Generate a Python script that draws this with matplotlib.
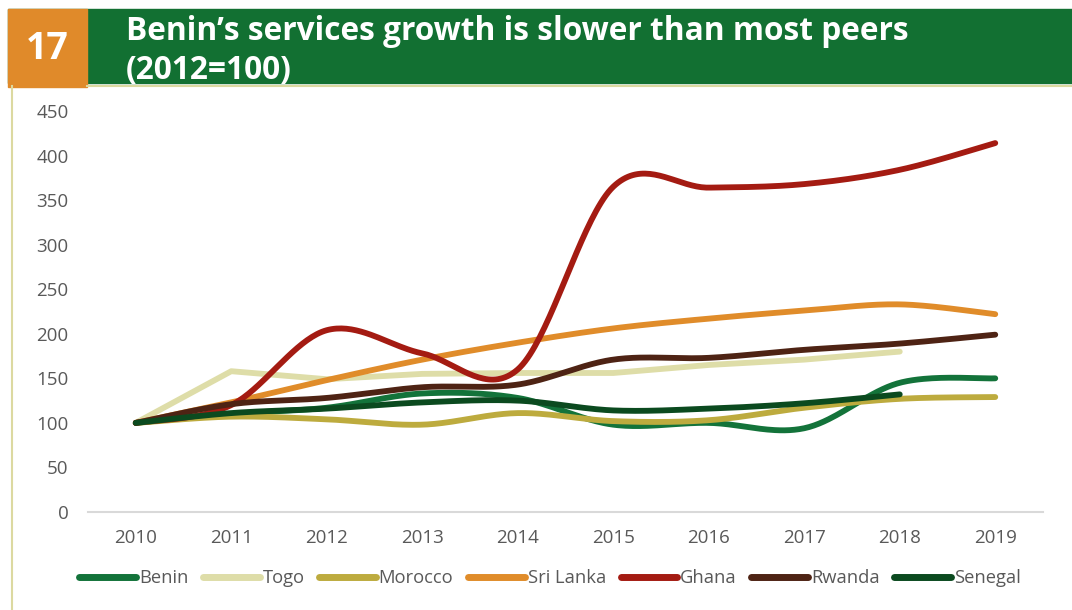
import matplotlib

matplotlib.use("Agg")
import matplotlib.pyplot as plt
import numpy as np
from matplotlib.patches import Rectangle
from matplotlib.lines import Line2D

plt.rcParams["font.family"] = ["Open Sans", "DejaVu Sans"]

years = [2010, 2011, 2012, 2013, 2014, 2015, 2016, 2017, 2018, 2019]

benin = [100, 110, 117, 133, 128, 98, 100, 94, 145, 150]
togo = [100, 158, 149, 155, 156, 156, 165, 171, 180]
morocco = [100, 107, 104, 98, 111, 102, 103, 117, 127, 129]
sri_lanka = [100, 123, 148, 171, 190, 206, 217, 226, 233, 222]
ghana = [100, 120, 204, 178, 160, 365, 364, 368, 384, 414]
rwanda = [100, 121, 128, 140, 143, 171, 173, 182, 189, 199]
senegal = [100, 111, 116, 123, 125, 114, 116, 122, 132]

series = [
    ("Benin", benin, "#13733a", True),
    ("Togo", togo, "#dedda8", False),
    ("Morocco", morocco, "#bdab3e", True),
    ("Sri Lanka", sri_lanka, "#e08c2a", True),
    ("Ghana", ghana, "#a41b12", True),
    ("Rwanda", rwanda, "#4e2314", True),
    ("Senegal", senegal, "#0b4a1f", True),
]

title_lines = ["Benin\u2019s services growth is slower than most peers", "(2012=100)"]

W, H = 1072, 610


def smooth(xs, ys, n=40):
    # cubic bezier through the points, tangents from neighbours (spreadsheet-style smoothing)
    xs = np.asarray(xs, float)
    ys = np.asarray(ys, float)
    px = np.concatenate([[xs[0]], xs, [xs[-1]]])
    py = np.concatenate([[ys[0]], ys, [ys[-1]]])
    out_x, out_y = [xs[0]], [ys[0]]
    t = np.linspace(0, 1, n)[1:]
    for i in range(1, len(px) - 2):
        x0, y0 = px[i], py[i]
        x3, y3 = px[i + 1], py[i + 1]
        x1 = x0 + (px[i + 1] - px[i - 1]) / 6
        y1 = y0 + (py[i + 1] - py[i - 1]) / 6
        x2 = x3 - (px[i + 2] - px[i]) / 6
        y2 = y3 - (py[i + 2] - py[i]) / 6
        a, b, c, d = (1 - t) ** 3, 3 * (1 - t) ** 2 * t, 3 * (1 - t) * t ** 2, t ** 3
        out_x.extend(a * x0 + b * x1 + c * x2 + d * x3)
        out_y.extend(a * y0 + b * y1 + c * y2 + d * y3)
    return np.array(out_x), np.array(out_y)


def fx(px):
    return px / W


def fy(py):
    return 1 - py / H


fig = plt.figure(figsize=(W / 100, H / 100), dpi=100)

# header band
fig.patches.append(Rectangle((fx(8), fy(83)), fx(W) - fx(8), fy(9) - fy(83),
                             transform=fig.transFigure, color="#127032", zorder=0))
fig.patches.append(Rectangle((fx(8), fy(87)), fx(87) - fx(8), fy(9) - fy(87),
                             transform=fig.transFigure, color="#e08a2a", zorder=1))
fig.lines.append(Line2D([fx(87), 1], [fy(85.5), fy(85.5)], transform=fig.transFigure,
                        color="#dcd9a0", lw=1.5))
fig.lines.append(Line2D([fx(11.5), fx(11.5)], [fy(86), 0], transform=fig.transFigure,
                        color="#dcd9a0", lw=1.5))
fig.text(fx(47), fy(49), "17", color="white", fontsize=27, fontweight="bold",
         ha="center", va="center")
for line, base in zip(title_lines, [40, 79]):
    fig.text(fx(126), fy(base), line, color="white", fontsize=22.8, fontweight="bold",
             ha="left", va="baseline")

ax = fig.add_axes([fx(88), fy(512), fx(1043) - fx(88), fy(111) - fy(512)])

for name, vals, color, is_smooth in series:
    xs = years[:len(vals)]
    if is_smooth:
        sx, sy = smooth(xs, vals)
    else:
        sx, sy = np.array(xs), np.array(vals)
    ax.plot(sx, sy, color=color, lw=4.2, solid_capstyle="round",
            solid_joinstyle="round", label=name)

ax.set_xlim(2009.5, 2019.5)
ax.set_ylim(0, 450)
ax.set_xticks(years)
ax.set_yticks(range(0, 451, 50))
for side in ["top", "right", "left"]:
    ax.spines[side].set_visible(False)
ax.spines["bottom"].set_color("#d9d9d9")
ax.spines["bottom"].set_linewidth(1.5)
ax.tick_params(axis="both", length=0, labelsize=13.5, labelcolor="#595959")
ax.tick_params(axis="y", pad=14)
ax.tick_params(axis="x", pad=12)

leg = fig.legend(loc="center", bbox_to_anchor=(fx(550), fy(578)), ncol=7, frameon=False,
                 fontsize=13.2, handlelength=3.1, handletextpad=0.15, columnspacing=0.8,
                 labelcolor="#595959")
for h in leg.get_lines():
    h.set_linewidth(5)

fig.savefig("out.png", dpi=100)
